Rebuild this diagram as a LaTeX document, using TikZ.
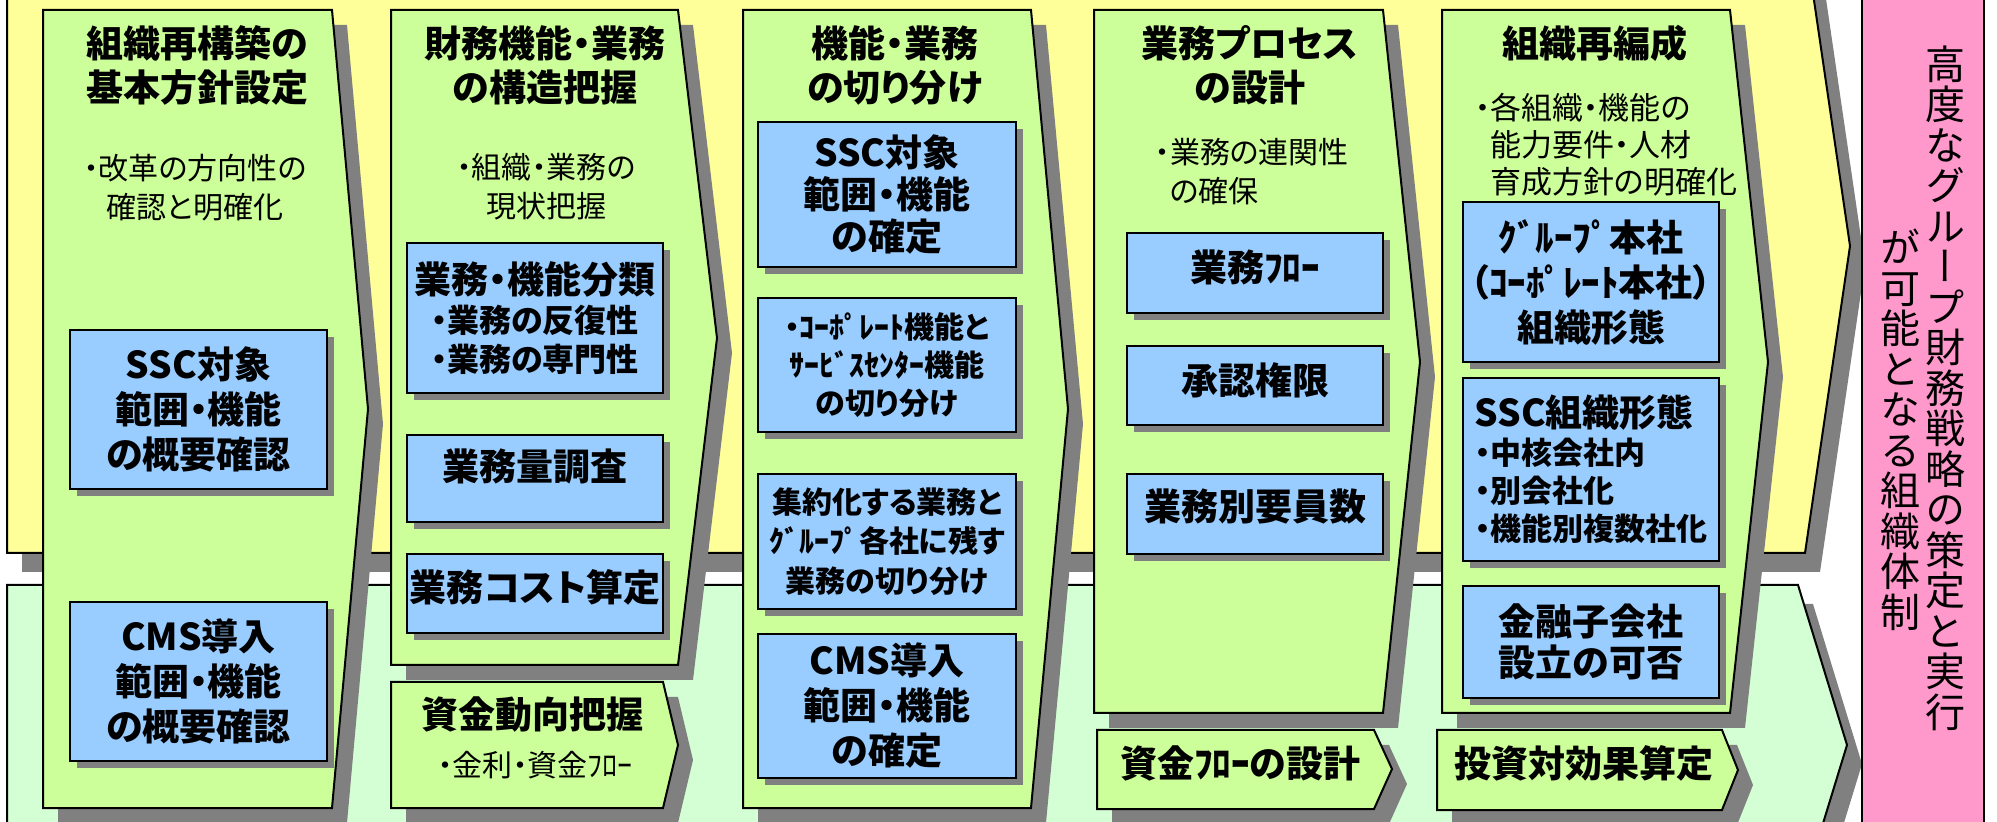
\documentclass[tikz,border=0pt]{standalone}
\usepackage{fontspec}
\setmainfont{Noto Sans CJK JP}[RawFeature=+palt]
\newfontfamily\tatefont{Noto Sans CJK JP}[RawFeature=+vert]
\usetikzlibrary{shadows}
\definecolor{bandyellow}{HTML}{FFFF99}
\definecolor{bandmint}{HTML}{D4FFD4}
\definecolor{colgreen}{HTML}{CCFF99}
\definecolor{boxblue}{HTML}{99CCFF}
\definecolor{goalpink}{HTML}{FF99CC}
\definecolor{shade}{HTML}{808080}
\newcommand\lift[2]{\raisebox{#1}[\height][\depth]{#2}}
\tikzset{
  band/.style={draw=black,line width=1pt,general shadow={fill=shade,shadow xshift=7.5pt,shadow yshift=-9.5pt}},
  colbody/.style={draw=black,line width=1pt,fill=colgreen,general shadow={fill=shade,shadow xshift=7.5pt,shadow yshift=-7.5pt}},
  bluebox/.style={draw=black,line width=1pt,fill=boxblue,general shadow={fill=shade,shadow xshift=3.5pt,shadow yshift=-3.5pt},
    inner sep=0pt,minimum width=128pt,align=center,font=\bfseries\fontsize{18.5}{22.5}\selectfont},
  smallbox/.style={bluebox,font=\bfseries\fontsize{15}{19}\selectfont},
  headline/.style={align=center,font=\bfseries\fontsize{18.5}{22}\selectfont},
  note/.style={align=center,font=\fontsize{15}{19.5}\selectfont},
}
\begin{document}
\begin{tikzpicture}[x=0.5pt,y=-0.5pt]
\useasboundingbox (0,0) rectangle (1997,822);
\clip (0,0) rectangle (1997,822);

\draw[band,fill=bandyellow] (7,-61) -- (1805,-61) -- (1850,246) -- (1805,553) -- (7,553) -- cycle;
\draw[band,fill=bandmint] (7,585) -- (1798,585) -- (1847,745) -- (1798,905) -- (7,905) -- cycle;
\draw[fill=goalpink,line width=1pt] (1862,-10) rectangle (1984,832);

\draw[colbody] (43,10) -- (332,10) -- (368,409) -- (332,808) -- (43,808) -- cycle;
\draw[colbody] (391,10) -- (678,10) -- (717,338) -- (678,665) -- (391,665) -- cycle;
\draw[colbody] (391,682) -- (663,682) -- (678,745) -- (663,808) -- (391,808) -- cycle;
\draw[colbody] (743,10) -- (1031,10) -- (1068,409) -- (1031,808) -- (743,808) -- cycle;
\draw[colbody] (1094,10) -- (1383,10) -- (1420,362) -- (1383,713) -- (1094,713) -- cycle;
\draw[colbody] (1097,730) -- (1374,730) -- (1392,769) -- (1374,809) -- (1097,809) -- cycle;
\draw[colbody] (1442,10) -- (1730,10) -- (1768,362) -- (1730,713) -- (1442,713) -- cycle;
\draw[colbody] (1437,730) -- (1722,730) -- (1738,770) -- (1722,810) -- (1437,810) -- cycle;

\node[headline] (head1) at (197,65) {組織再構築の\\基本方針設定};
\node[note] (note1) at (195,188) {・改革の方向性の\\確認と明確化};
\node[bluebox,minimum width=128.5pt,minimum height=79.5pt] (ssc1) at (198.5,409.5) {SSC対象\\範囲・機能\\の概要確認};
\node[bluebox,minimum width=128.5pt,minimum height=79.5pt] (cms1) at (198.5,681.5) {CMS導入\\範囲・機能\\の概要確認};

\node[headline] (head2) at (545,65) {財務機能・業務\\の構造把握};
\node[note] (note2) at (546,187) {・組織・業務の\\現状把握};
\node[bluebox,minimum height=75pt,font=\bfseries\fontsize{16}{19.5}\selectfont] (sort2) at (535,318)
  {{\fontsize{18.5}{19.5}\selectfont 業務・機能分類}\\・業務の反復性\\・業務の専門性};
\node[bluebox,minimum height=43.5pt] (volume2) at (535,478.5) {\lift{5.75pt}{業務量調査}};
\node[bluebox,minimum height=39.5pt] (cost2) at (535,593.5) {\lift{3.25pt}{業務コスト算定}};
\node[headline] (fund2) at (532,715) {資金動向把握};
\node[note] (rate2) at (535,765) {・金利・資金ﾌﾛｰ};

\node[headline] (head3) at (895,65) {機能・業務\\の切り分け};
\node[bluebox,minimum width=129pt,minimum height=72.5pt,font=\bfseries\fontsize{18.5}{21}\selectfont] (ssc3) at (887,194.5) {SSC対象\\範囲・機能\\の確定};
\node[smallbox,minimum width=129pt,minimum height=67pt] (split3) at (887,365) {・ｺｰﾎﾟﾚｰﾄ機能と\\ｻｰﾋﾞｽｾﾝﾀｰ機能\\の切り分け};
\node[smallbox,minimum width=129pt,minimum height=67.5pt,font=\bfseries\fontsize{15}{19.75}\selectfont] (pool3) at (887,541.5) {集約化する業務と\\ｸﾞﾙｰﾌﾟ各社に残す\\業務の切り分け};
\node[bluebox,minimum width=129pt,minimum height=72pt] (cms3) at (887,706) {CMS導入\\範囲・機能\\の確定};

\node[headline] (head4) at (1250,65) {業務プロセス\\の設計};
\node[note,align=left] (note4) at (1252,172) {・業務の連関性\\\phantom{・}の確保};
\node[bluebox,minimum height=40pt] (flow4) at (1255,273) {\lift{3pt}{業務ﾌﾛｰ}};
\node[bluebox,minimum height=39.5pt] (auth4) at (1255,385.5) {\lift{2.75pt}{承認権限}};
\node[bluebox,minimum height=40pt] (staff4) at (1255,514) {\lift{3.5pt}{業務別要員数}};
\node[headline] (fund4) at (1240,763) {資金ﾌﾛｰの設計};

\node[headline] (head5) at (1595,43) {組織再編成};
\node[note,align=left,font=\fontsize{15.5}{18.5}\selectfont] (note5) at (1606,145) {・各組織・機能の\\\phantom{・}能力要件・人材\\\phantom{・}育成方針の明確化};
\node[bluebox,minimum height=80pt] (group5) at (1591,282) {ｸﾞﾙｰﾌﾟ本社\\（ｺｰﾎﾟﾚｰﾄ本社）\\組織形態};
\node[bluebox,minimum height=91.5pt,align=left,font=\bfseries\fontsize{15.5}{19}\selectfont] (ssc5) at (1591,469.5)
  {{\fontsize{18.5}{19}\selectfont SSC組織形態}\\・中核会社内\\・別会社化\\・機能別複数社化};
\node[bluebox,minimum height=56pt,font=\bfseries\fontsize{18.5}{20.5}\selectfont] (bank5) at (1591,642) {金融子会社\\設立の可否};
\node[headline] (invest5) at (1584,763) {投資対効果算定};

\node[align=center,font=\tatefont\fontsize{20}{20.25}\selectfont] (goal1) at (1945,388)
  {高\\度\\な\\グ\\ル\\ー\\プ\\財\\務\\戦\\略\\の\\策\\定\\と\\実\\行};
\node[align=center,font=\tatefont\fontsize{20}{20.25}\selectfont] (goal2) at (1900,430)
  {が\\可\\能\\と\\な\\る\\組\\織\\体\\制};
\end{tikzpicture}
\end{document}
